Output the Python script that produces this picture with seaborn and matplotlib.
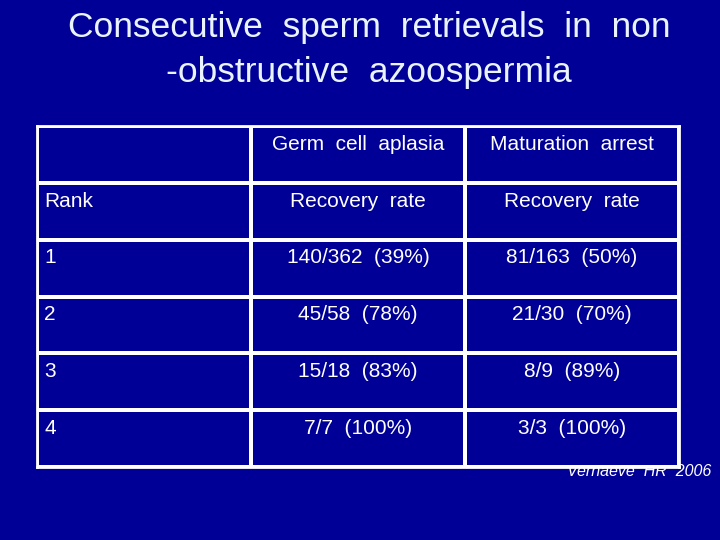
import numpy as np
import pandas as pd
import matplotlib
matplotlib.use('Agg')
import matplotlib.pyplot as plt
import seaborn as sns

# table contents
col_headers = ['', 'Germ  cell  aplasia', 'Maturation  arrest']
row_labels = ['Rank', '1', '2', '3', '4']
germ_cell = ['Recovery  rate', '140/362  (39%)', '45/58  (78%)', '15/18  (83%)', '7/7  (100%)']
maturation = ['Recovery  rate', '81/163  (50%)', '21/30  (70%)', '8/9  (89%)', '3/3  (100%)']

title_lines = ['Consecutive  sperm  retrievals  in  non', '-obstructive  azoospermia']
source = 'Vernaeve  HR  2006'

bg = '#000096'

sns.set_theme(style='white')
plt.rcParams['font.family'] = ['Liberation Sans', 'DejaVu Sans']

cells = pd.DataFrame({
    'rank': [col_headers[0]] + row_labels,
    'germ': [col_headers[1]] + germ_cell,
    'mat': [col_headers[2]] + maturation,
})

fig = plt.figure(figsize=(7.2, 5.4), dpi=100, facecolor=bg)
ax = fig.add_axes([37 / 720, 1 - 467 / 540, 642 / 720, 341 / 540])

zeros = np.zeros(cells.shape)
sns.heatmap(zeros, ax=ax, cmap=matplotlib.colors.ListedColormap([bg]), cbar=False,
            linewidths=1.6, linecolor='white', xticklabels=False, yticklabels=False)
for s in ax.spines.values():
    s.set_visible(True)
    s.set_color('white')
    s.set_linewidth(2)

for i in range(cells.shape[0]):
    for j, key in enumerate(cells.columns):
        txt = cells[key].iloc[i]
        if j == 0:
            ax.text(j + 0.033, i + 0.32, txt, ha='left', va='center', color='white', fontsize=15)
        else:
            ax.text(j + 0.5, i + 0.32, txt, ha='center', va='center', color='white', fontsize=15)

# title, one text per line so the baselines can be placed
for k, line in enumerate(title_lines):
    fig.text(369 / 720, 1 - (37 + 45 * k) / 540, line, ha='center', va='baseline',
             color='#eaf4ff', fontsize=25.5)
fig.text(711 / 720, 1 - 472 / 540, source, ha='right', va='center', color='white',
         fontsize=11.5, style='italic', zorder=-1)

fig.savefig('out.png', dpi=100, facecolor=bg)
